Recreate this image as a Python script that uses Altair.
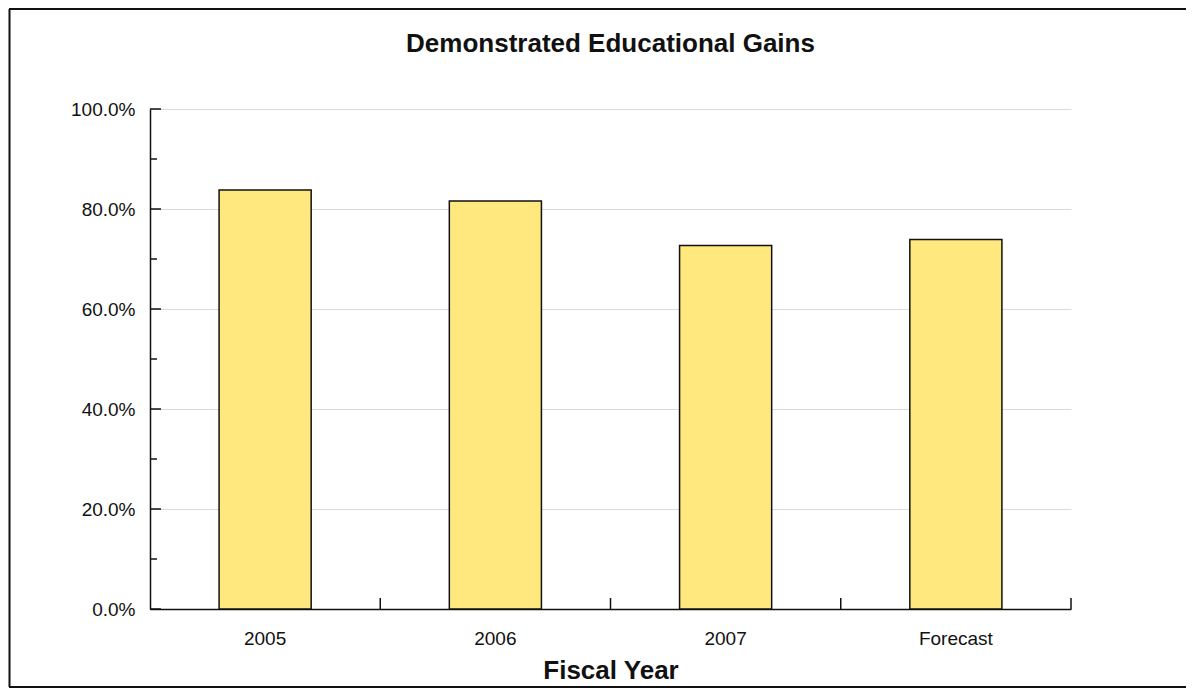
import altair as alt
import pandas as pd

categories = ["2005", "2006", "2007", "Forecast"]
values = [83.8, 81.6, 72.7, 73.9]

major_ticks = [0, 20, 40, 60, 80, 100]
minor_ticks = [10, 30, 50, 70, 90]
band_edges = [1, 2, 3, 4]
title_text = ["Demonstrated Educational Gains"]

FONT = "Liberation Sans"

bars_df = pd.DataFrame({"year": categories, "pct": values})
major_df = pd.DataFrame({"v": major_ticks})
minor_df = pd.DataFrame({"v": minor_ticks})
edge_df = pd.DataFrame({"e": band_edges})
title_df = pd.DataFrame({"t": title_text})

y_scale = alt.Scale(domain=[0, 100], nice=False)

bars = alt.Chart(bars_df).mark_bar(
    color="#FFE97F", stroke="#111111", strokeWidth=1.5
).encode(
    x=alt.X(
        "year:N",
        sort=categories,
        scale=alt.Scale(paddingInner=0.6, paddingOuter=0.3),
        axis=alt.Axis(
            title="Fiscal Year",
            labelAngle=0,
            ticks=False,
            domainColor="#111111",
            domainWidth=1.5,
            labelFont=FONT,
            labelFontSize=19,
            labelColor="#111111",
            labelPadding=20,
            titleFont=FONT,
            titleFontSize=26,
            titleFontWeight="bold",
            titleColor="#111111",
            titlePadding=9,
        ),
    ),
    y=alt.Y(
        "pct:Q",
        scale=y_scale,
        axis=alt.Axis(
            title=None,
            values=major_ticks,
            labelExpr="format(datum.value, '.1f') + '%'",
            ticks=False,
            domainColor="#111111",
            domainWidth=1.5,
            grid=True,
            gridColor="#dadada",
            gridWidth=1.2,
            labelFont=FONT,
            labelFontSize=19,
            labelColor="#111111",
            labelPadding=15,
        ),
    ),
)

ytick_major = alt.Chart(major_df).mark_rule(color="#111111", strokeWidth=1.5).encode(
    y=alt.Y("v:Q", scale=y_scale),
    x=alt.value(0),
    x2=alt.value(11),
)

ytick_minor = alt.Chart(minor_df).mark_rule(color="#111111", strokeWidth=1.5).encode(
    y=alt.Y("v:Q", scale=y_scale),
    x=alt.value(0),
    x2=alt.value(7),
)

xticks = alt.Chart(edge_df).mark_rule(color="#111111", strokeWidth=1.5).encode(
    x=alt.X("e:Q", scale=alt.Scale(domain=[0, 4], nice=False), axis=None),
    y=alt.value(489),
    y2=alt.value(500),
)

title_mark = alt.Chart(title_df).mark_text(
    font=FONT, fontSize=26, fontWeight="bold", color="#111111",
    align="center", baseline="alphabetic",
).encode(
    text="t:N",
    x=alt.value(460.5),
    y=alt.value(-57),
)

border_left = alt.Chart(title_df).mark_rule(color="#111111", strokeWidth=2).encode(
    x=alt.value(-140.5), y=alt.value(-100), y2=alt.value(578)
)
border_top = alt.Chart(title_df).mark_rule(color="#111111", strokeWidth=2).encode(
    y=alt.value(-100), x=alt.value(-141), x2=alt.value(1040)
)
border_bottom = alt.Chart(title_df).mark_rule(color="#111111", strokeWidth=2).encode(
    y=alt.value(578), x=alt.value(-141), x2=alt.value(1040)
)

chart = alt.layer(
    bars, ytick_major, ytick_minor, xticks, title_mark,
    border_left, border_top, border_bottom
).resolve_scale(x="independent").properties(
    width=921,
    height=500,
    background="white",
    autosize=alt.AutoSizeParams(type="none"),
    padding={"left": 142, "top": 101, "right": 115, "bottom": 79},
).configure_view(stroke=None)

chart.save("out.html", embed_options={"renderer": "svg", "actions": False})
